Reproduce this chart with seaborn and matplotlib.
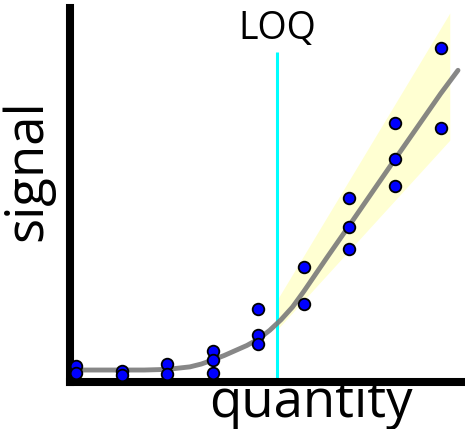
import matplotlib
matplotlib.use("Agg")
import matplotlib.pyplot as plt
import seaborn as sns

# measured points (quantity level, signal)
quantity = [0, 0, 1, 1, 2, 2, 3, 3, 3, 4, 4, 4, 5, 5, 6, 6, 6, 7, 7, 7, 8, 8]
signal = [0.25, 0.14, 0.18, 0.11, 0.29, 0.13, 0.49, 0.35, 0.14, 1.16, 0.75, 0.60,
          1.83, 1.24, 2.92, 2.46, 2.11, 4.11, 3.54, 3.11, 5.30, 4.03]

# fitted calibration curve
fit_q = [0, 1, 1.5, 2, 2.5, 2.75, 3, 3.25, 3.5, 3.75, 4, 4.25, 4.5, 4.75, 5,
         5.5, 6, 7, 8, 8.38]
fit_s = [0.19, 0.19, 0.19, 0.20, 0.24, 0.285, 0.35, 0.42, 0.50, 0.58, 0.68, 0.82,
         0.99, 1.19, 1.44, 1.97, 2.49, 3.54, 4.58, 4.95]

# confidence band above the LOQ
band_q = [4.41, 8.2]
band_hi = [1.30, 5.86]
band_lo = [0.83, 3.84]

loq = 4.41

sns.set_style("white")
plt.rcParams["font.family"] = ["Open Sans", "DejaVu Sans"]
plt.rcParams["text.color"] = "black"
plt.rcParams["axes.labelcolor"] = "black"

fig = plt.figure(figsize=(4.65, 4.29), dpi=100)
ax = fig.add_axes([0.1505, 0.1096, 0.8452, 0.8718])

ax.fill_between(band_q, band_lo, band_hi, color="#ffffd2", lw=0, zorder=1)
ax.vlines(loq, 0, 5.24, color="#00ffff", lw=2.2, zorder=2)
sns.lineplot(x=fit_q, y=fit_s, ax=ax, color="#7a7a7a", lw=3.5, alpha=0.9,
             zorder=3)
sns.scatterplot(x=quantity, y=signal, ax=ax, color="#0000ff", edgecolor="black",
                linewidth=1.3, s=70, zorder=4, clip_on=False)

ax.text(loq, 5.30, "LOQ", ha="center", va="bottom", fontsize=27)

ax.set_xlim(-0.13, 8.49)
ax.set_ylim(0, 5.94)
ax.set_xticks([])
ax.set_yticks([])
sns.despine(ax=ax)
for side in ["left", "bottom"]:
    ax.spines[side].set_linewidth(5.8)
    ax.spines[side].set_color("black")
    ax.spines[side].set_capstyle("projecting")

ax.set_xlabel("quantity", fontsize=38)
ax.xaxis.set_label_coords(0.613, 0.014)
ax.set_ylabel("signal", fontsize=38)
ax.yaxis.set_label_coords(-0.04, 0.567)

fig.savefig("out.png", dpi=100)
